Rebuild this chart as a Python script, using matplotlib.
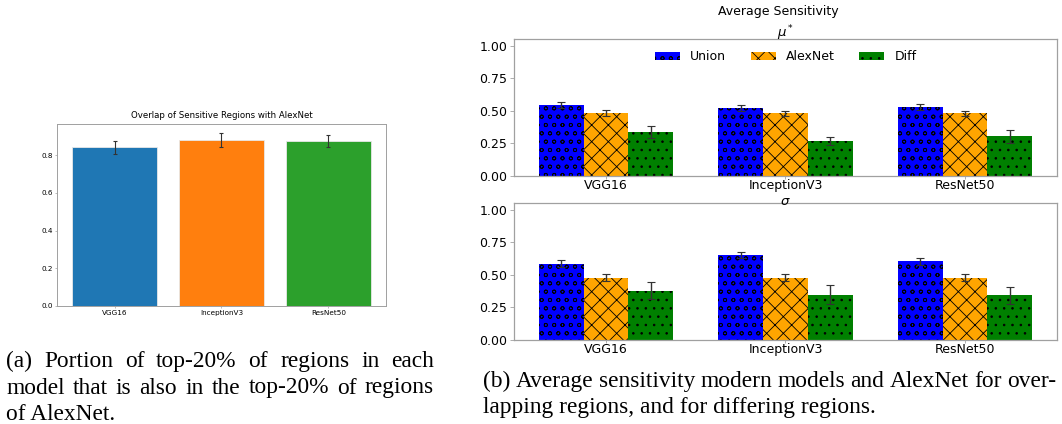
import matplotlib
matplotlib.use("Agg")
import numpy as np
import matplotlib.pyplot as plt

models = ["VGG16", "InceptionV3", "ResNet50"]

# (a) overlap with AlexNet
overlap = [0.842, 0.882, 0.875]
overlap_err = [0.035, 0.037, 0.033]

# (b) average sensitivity, mu* and sigma
series = ["Union", "AlexNet", "Diff"]
mu_union = [0.541, 0.518, 0.531]
mu_alex = [0.483, 0.481, 0.481]
mu_diff = [0.338, 0.270, 0.304]
mu_union_err = [0.023, 0.023, 0.023]
mu_alex_err = [0.021, 0.021, 0.021]
mu_diff_err = [0.046, 0.030, 0.049]

sig_union = [0.585, 0.655, 0.603]
sig_alex = [0.478, 0.478, 0.478]
sig_diff = [0.379, 0.348, 0.343]
sig_union_err = [0.028, 0.023, 0.028]
sig_alex_err = [0.028, 0.028, 0.028]
sig_diff_err = [0.067, 0.075, 0.064]

captions_a = ["(a) Portion of top-20% of regions in each",
              "model that is also in the top-20% of regions",
              "of AlexNet."]
captions_b = ["(b) Average sensitivity modern models and AlexNet for over-",
              "lapping regions, and for differing regions."]

plt.rcParams['hatch.color'] = 'black'
plt.rcParams['hatch.linewidth'] = 0.6

W, H = 1062, 424
fig = plt.figure(figsize=(W / 100, H / 100), dpi=100)


def box(x0, y0, x1, y1):
    # pixel box (top-left origin) -> figure fraction
    return [x0 / W, (H - y1) / H, (x1 - x0) / W, (y1 - y0) / H]


spine_col = '#a0a0a0'

# ---- left panel
ax0 = fig.add_axes(box(57, 124, 386, 306))
x = np.arange(len(models))
ax0.bar(x, overlap, 0.8, yerr=overlap_err, color=['#1f77b4', '#ff7f0e', '#2ca02c'],
        edgecolor='#e8e8e8', linewidth=0.6,
        error_kw=dict(ecolor='#333333', elinewidth=0.8, capsize=1.5, capthick=0.8))
ax0.set_xticks(x)
ax0.set_xticklabels(models)
ax0.tick_params(labelsize=5.2, length=1.5, width=0.5, pad=1.5, color=spine_col)
ax0.set_title("Overlap of Sensitive Regions with AlexNet", fontsize=6.2, pad=4)
for s in ax0.spines.values():
    s.set_color(spine_col)
    s.set_linewidth(0.7)

# ---- right panels
bw = 0.25
colors = ['blue', 'orange', 'green']
hatches = ['oo', 'xx', '..']


def sens_panel(ax, vals, errs, title, tpad, ty, legend=False):
    for i in range(3):
        ax.bar(x + (i - 1) * bw, vals[i], bw, yerr=errs[i], color=colors[i], hatch=hatches[i],
               label=series[i], linewidth=0,
               error_kw=dict(ecolor='#333333', elinewidth=1.0, capsize=3, capthick=0.8))
    ax.set_ylim(0, 1.05)
    ax.set_yticks([0, 0.25, 0.5, 0.75, 1.0])
    ax.set_xticks(x)
    ax.set_xticklabels(models)
    ax.tick_params(labelsize=9, width=0.6, color=spine_col)
    ax.tick_params(axis='x', length=2, pad=0.5)
    ax.tick_params(axis='y', length=3, pad=2)
    ax.set_title(title, fontsize=9.5, pad=tpad, y=ty)
    for s in ax.spines.values():
        s.set_color(spine_col)
        s.set_linewidth(0.9)
    if legend:
        ax.legend(loc='upper center', ncol=3, frameon=False, fontsize=9)


ax1 = fig.add_axes(box(514, 39, 1057, 176))
sens_panel(ax1, [mu_union, mu_alex, mu_diff], [mu_union_err, mu_alex_err, mu_diff_err],
           r"$\mu^*$", 1.5, 1.0, legend=True)
ax2 = fig.add_axes(box(514, 203, 1057, 340))
sens_panel(ax2, [sig_union, sig_alex, sig_diff], [sig_union_err, sig_alex_err, sig_diff_err],
           r"$\sigma$", 0, 0.985)

fig.text(778 / W, 1 - 12 / H, "Average Sensitivity", ha='center', va='center', fontsize=9)

# ---- captions (justified lines like the paper layout)
renderer = fig.canvas.get_renderer()
cap_font = dict(family='Liberation Serif', fontsize=16.8)


def caption_line(x0, x1, base, line, justify=True):
    y = 1 - base / H
    if not justify:
        fig.text(x0 / W, y, line, ha='left', va='baseline', **cap_font)
        return
    words = line.split(' ')
    texts = [fig.text(0, y, w, ha='left', va='baseline', **cap_font) for w in words]
    widths = [t.get_window_extent(renderer).width for t in texts]
    gap = (x1 - x0 - sum(widths)) / (len(words) - 1)
    pos = x0
    for t, w in zip(texts, widths):
        t.set_x(pos / W)
        pos += w + gap


caption_line(6, 434, 367, captions_a[0])
caption_line(6, 434, 393.5, captions_a[1])
caption_line(6, 434, 420, captions_a[2], justify=False)
caption_line(483, 1056, 387, captions_b[0])
caption_line(483, 1056, 413, captions_b[1], justify=False)

fig.savefig("out.png", dpi=100)
